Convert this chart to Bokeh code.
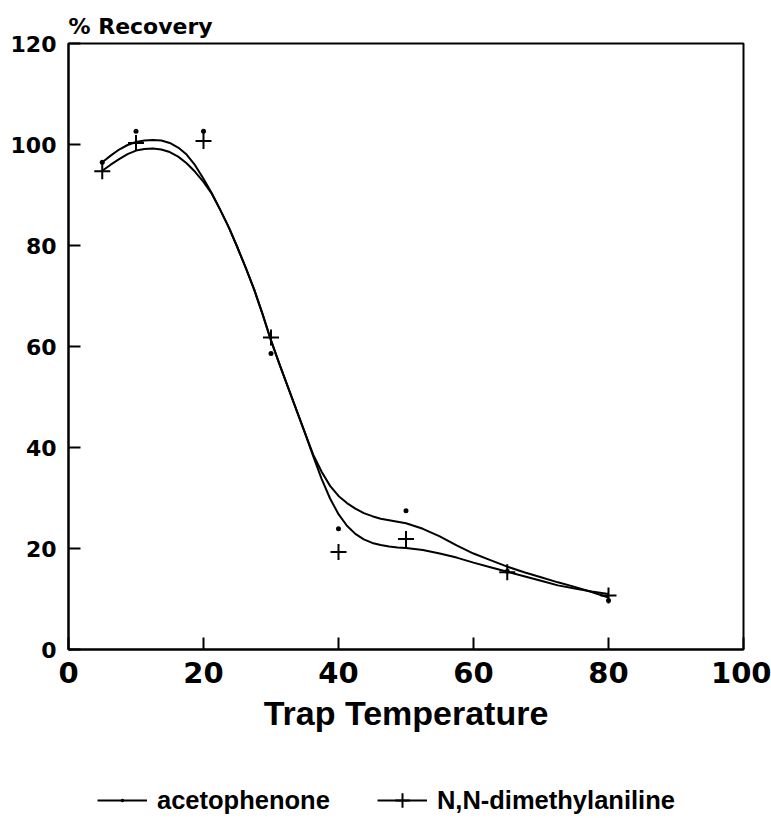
from bokeh.plotting import figure
from bokeh.models import Legend, LegendItem, Range1d, FixedTicker
from bokeh.layouts import column
from bokeh.embed import file_html
from bokeh.resources import INLINE

# measured points
temps = [5, 10, 20, 30, 40, 50, 65, 80]
recovery_aceto = [96.5, 102.6, 102.6, 58.6, 23.9, 27.5, 15.5, 9.7]
recovery_dma = [94.7, 100.3, 100.7, 61.8, 19.3, 21.9, 15.3, 10.7]

# fitted curves
curve_x = [5, 6.25, 7.5, 8.75, 10, 11.25, 12.5, 13.75, 15, 16.25, 17.5, 18.75, 20,
           21.25, 22.5, 23.75, 25, 26.25, 27.5, 28.75, 30, 31.25, 32.5, 33.75, 35,
           36.25, 37.5, 38.75, 40, 41.25, 42.5, 43.75, 45, 46.25, 47.5, 48.75, 50,
           52.5, 55, 57.5, 60, 62.5, 65, 67.5, 70, 72.5, 75, 77.5, 80]
curve_aceto = [96.5, 97.8, 99.0, 99.9, 100.5, 100.8, 100.9, 100.8, 100.3, 99.4, 98.0,
               95.9, 93.2, 90.3, 87.0, 83.6, 79.7, 75.6, 71.3, 66.4, 61.2, 56.5, 52.0,
               47.5, 43.0, 38.6, 35.2, 32.4, 30.4, 29.0, 27.9, 27.0, 26.4, 25.9, 25.6,
               25.3, 25.0,
               23.9, 22.4, 20.6, 19.0, 17.7, 16.4, 15.3, 14.3, 13.3, 12.4, 11.4, 10.3]
curve_dma = [94.8, 96.0, 97.1, 98.1, 98.8, 99.1, 99.2, 99.0, 98.5, 97.6, 96.3, 94.6,
             92.6, 90.2, 87.0, 83.6, 79.7, 75.6, 71.3, 66.4, 61.2, 56.5, 52.0, 47.5,
             43.0, 38.3, 33.8, 29.9, 26.8, 24.5, 22.9, 21.8, 21.1, 20.7, 20.4, 20.2,
             20.1,
             19.7, 19.0, 18.2, 17.2, 16.3, 15.4, 14.5, 13.6, 12.7, 12.1, 11.5, 11.0]

x_ticks = [0, 20, 40, 60, 80, 100]
y_ticks = [0, 20, 40, 60, 80, 100, 120]
series_names = ["acetophenone", "N,N-dimethylaniline"]

p = figure(width=771, height=750, x_range=Range1d(0, 100), y_range=Range1d(0, 120),
           output_backend="svg", toolbar_location=None,
           min_border_left=68, min_border_right=28, min_border_top=43, min_border_bottom=101)
p.grid.visible = False
p.outline_line_color = "black"
p.outline_line_width = 2
p.background_fill_color = "white"
p.border_fill_color = "white"

p.title.text = "% Recovery"
p.title.text_font = "DejaVu Sans"
p.title.text_font_style = "bold"
p.title.text_font_size = "22px"
p.title.text_color = "black"
p.title.align = "left"
p.title.standoff = 10

for ax in (p.xaxis[0], p.yaxis[0]):
    ax.axis_line_width = 2
    ax.axis_line_color = "black"
    ax.major_tick_line_width = 2
    ax.major_tick_in = 12
    ax.major_tick_out = 0
    ax.minor_tick_line_color = None
    ax.major_label_text_font = "DejaVu Sans"
    ax.major_label_text_font_style = "bold"
    ax.major_label_text_color = "black"

p.xaxis.ticker = FixedTicker(ticks=x_ticks)
p.yaxis.ticker = FixedTicker(ticks=y_ticks)
p.yaxis.major_label_text_font_size = "22px"
p.yaxis.major_label_standoff = 12
p.xaxis.major_label_text_font_size = "29px"
p.xaxis.major_label_standoff = 12
p.xaxis.axis_label = "Trap Temperature"
p.xaxis.axis_label_text_font = "Liberation Sans"
p.xaxis.axis_label_text_font_style = "bold"
p.xaxis.axis_label_text_font_size = "34px"
p.xaxis.axis_label_text_color = "black"
p.xaxis.axis_label_standoff = 8

p.line(curve_x, curve_aceto, line_color="black", line_width=2, line_join="round")
p.line(curve_x, curve_dma, line_color="black", line_width=2, line_join="round")
p.scatter(temps, recovery_aceto, marker="dot", size=20, line_color="black",
          fill_color="black")
p.scatter(temps, recovery_dma, marker="cross", size=16, line_color="black",
          line_width=2)

# legend strip below the chart (its renderers fall outside its own 0..1 ranges,
# so only the legend samples are seen)
q = figure(width=771, height=68, x_range=Range1d(0, 1), y_range=Range1d(0, 1),
           output_backend="svg", toolbar_location=None, min_border=0)
q.axis.visible = False
q.grid.visible = False
q.outline_line_color = None
q.border_fill_color = "white"
q.background_fill_color = "white"
qa_l = q.line(temps, recovery_aceto, line_color="black", line_width=2)
qa_m = q.scatter(temps, recovery_aceto, marker="dot", size=20, line_color="black",
                 fill_color="black")
qn_l = q.line(temps, recovery_dma, line_color="black", line_width=2)
qn_m = q.scatter(temps, recovery_dma, marker="cross", size=16, line_color="black",
                 line_width=2)

legend = Legend(items=[LegendItem(label=series_names[0], renderers=[qa_l, qa_m]),
                       LegendItem(label=series_names[1], renderers=[qn_l, qn_m])],
                orientation="horizontal", location=(29, 0),
                glyph_width=50, glyph_height=36, label_standoff=10, spacing=47,
                padding=0, margin=0, border_line_color=None,
                background_fill_alpha=0,
                label_text_font="Liberation Sans", label_text_font_style="bold",
                label_text_font_size="25.5px", label_text_color="black")
q.add_layout(legend, "center")

layout = column(p, q, spacing=0)
open("out.html", "w").write(file_html(layout, INLINE))
